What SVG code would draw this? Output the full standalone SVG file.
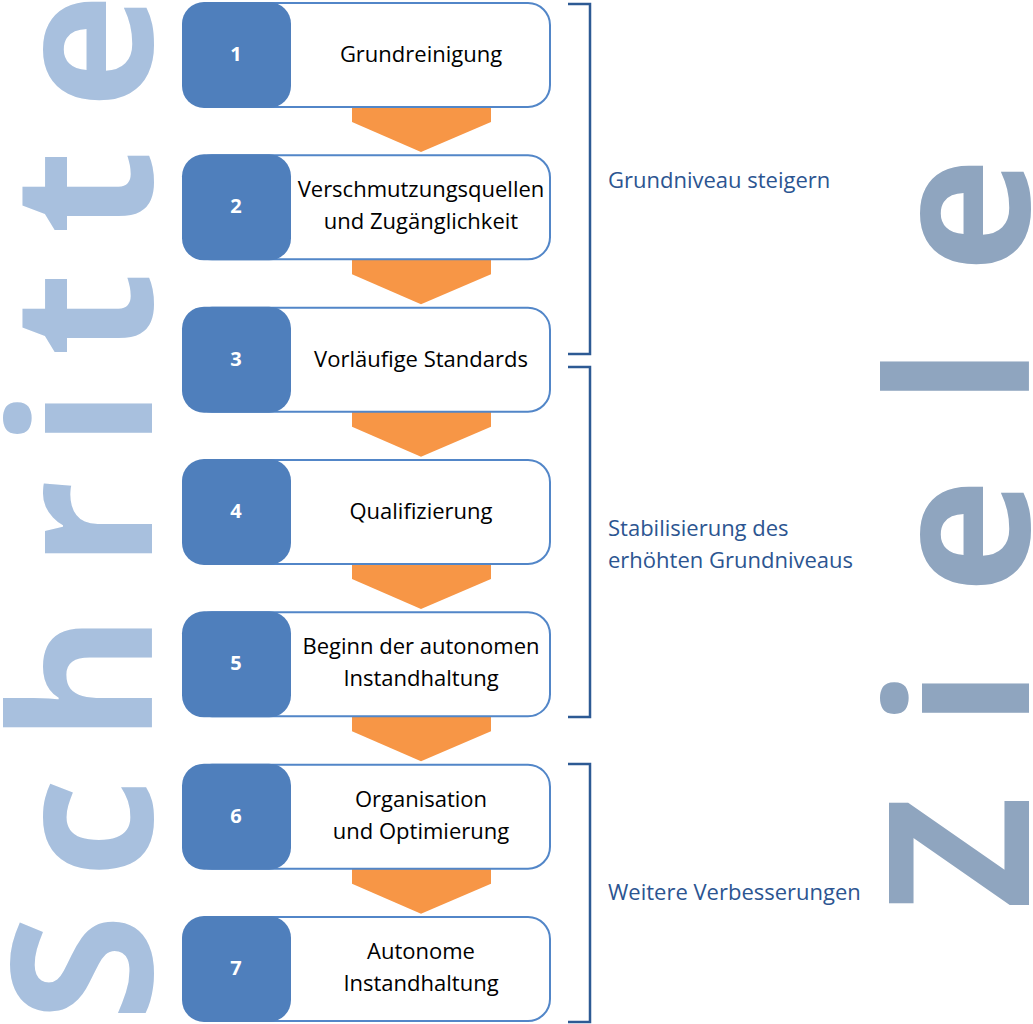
<svg xmlns="http://www.w3.org/2000/svg" width="1033" height="1024" viewBox="0 0 1033 1024">
<style>
.big{font-family:"Open Sans","Noto Sans",sans-serif;font-weight:700;font-size:196px;text-anchor:middle}
.sq{fill:#4f7fbc}
.box{fill:#ffffff;stroke:#5286c8;stroke-width:2}
.num{font-family:"Open Sans","Noto Sans",sans-serif;font-weight:700;font-size:20px;fill:#ffffff;text-anchor:middle}
.txt{font-family:"Open Sans","Noto Sans",sans-serif;font-size:22px;fill:#000000;text-anchor:middle}
.arr{fill:#f79646}
.br{fill:none;stroke:#2d5a94;stroke-width:2.5}
.lbl{font-family:"Open Sans","Noto Sans",sans-serif;font-size:22px;fill:#2c5591}
</style>
<rect width="1033" height="1024" fill="#ffffff"/>
<g id="title-schritte">
<text class="big" fill="#a8c0de" transform="translate(152,1024) rotate(-90)" x="56 196 346 500 606 710 832 973" y="0">Schritte</text>
</g>
<g id="title-ziele">
<text class="big" fill="#8fa5bf" transform="translate(1029,1024) rotate(-90)" x="171 326 488 648 809" y="0">Ziele</text>
</g>
<g id="connectors">
<polygon class="arr" points="352,104 491,104 491,122 421,152 352,122"/>
<polygon class="arr" transform="translate(0,152.33)" points="352,104 491,104 491,122 421,152 352,122"/>
<polygon class="arr" transform="translate(0,304.67)" points="352,104 491,104 491,122 421,152 352,122"/>
<polygon class="arr" transform="translate(0,457)" points="352,104 491,104 491,122 421,152 352,122"/>
<polygon class="arr" transform="translate(0,609.33)" points="352,104 491,104 491,122 421,152 352,122"/>
<polygon class="arr" transform="translate(0,761.67)" points="352,104 491,104 491,122 421,152 352,122"/>
</g>
<g id="step1" transform="translate(0,0)">
<rect class="box" x="190" y="3" width="360" height="104" rx="22"/>
<rect class="sq" x="182" y="2" width="109" height="106" rx="22"/>
<text class="num" x="236" y="61">1</text>
<text class="txt" x="421" y="62">Grundreinigung</text>
</g>
<g id="step2" transform="translate(0,152.33)">
<rect class="box" x="190" y="3" width="360" height="104" rx="22"/>
<rect class="sq" x="182" y="2" width="109" height="106" rx="22"/>
<text class="num" x="236" y="61">2</text>
<text class="txt" x="421" y="45">Verschmutzungsquellen</text>
<text class="txt" x="421" y="77">und Zugänglichkeit</text>
</g>
<g id="step3" transform="translate(0,304.67)">
<rect class="box" x="190" y="3" width="360" height="104" rx="22"/>
<rect class="sq" x="182" y="2" width="109" height="106" rx="22"/>
<text class="num" x="236" y="61">3</text>
<text class="txt" x="421" y="62">Vorläufige Standards</text>
</g>
<g id="step4" transform="translate(0,457)">
<rect class="box" x="190" y="3" width="360" height="104" rx="22"/>
<rect class="sq" x="182" y="2" width="109" height="106" rx="22"/>
<text class="num" x="236" y="61">4</text>
<text class="txt" x="421" y="62">Qualifizierung</text>
</g>
<g id="step5" transform="translate(0,609.33)">
<rect class="box" x="190" y="3" width="360" height="104" rx="22"/>
<rect class="sq" x="182" y="2" width="109" height="106" rx="22"/>
<text class="num" x="236" y="61">5</text>
<text class="txt" x="421" y="45">Beginn der autonomen</text>
<text class="txt" x="421" y="77">Instandhaltung</text>
</g>
<g id="step6" transform="translate(0,761.67)">
<rect class="box" x="190" y="3" width="360" height="104" rx="22"/>
<rect class="sq" x="182" y="2" width="109" height="106" rx="22"/>
<text class="num" x="236" y="61">6</text>
<text class="txt" x="421" y="45">Organisation</text>
<text class="txt" x="421" y="77">und Optimierung</text>
</g>
<g id="step7" transform="translate(0,914)">
<rect class="box" x="190" y="3" width="360" height="104" rx="22"/>
<rect class="sq" x="182" y="2" width="109" height="106" rx="22"/>
<text class="num" x="236" y="61">7</text>
<text class="txt" x="421" y="45">Autonome</text>
<text class="txt" x="421" y="77">Instandhaltung</text>
</g>
<g id="goal1">
<path class="br" d="M568,4 H590 V354 H568"/>
<text class="lbl" x="608" y="188">Grundniveau steigern</text>
</g>
<g id="goal2">
<path class="br" d="M568,367 H590 V717 H568"/>
<text class="lbl" x="608" y="536">Stabilisierung des</text>
<text class="lbl" x="608" y="568">erhöhten Grundniveaus</text>
</g>
<g id="goal3">
<path class="br" d="M568,764 H590 V1022 H568"/>
<text class="lbl" x="608" y="900">Weitere Verbesserungen</text>
</g>
</svg>
